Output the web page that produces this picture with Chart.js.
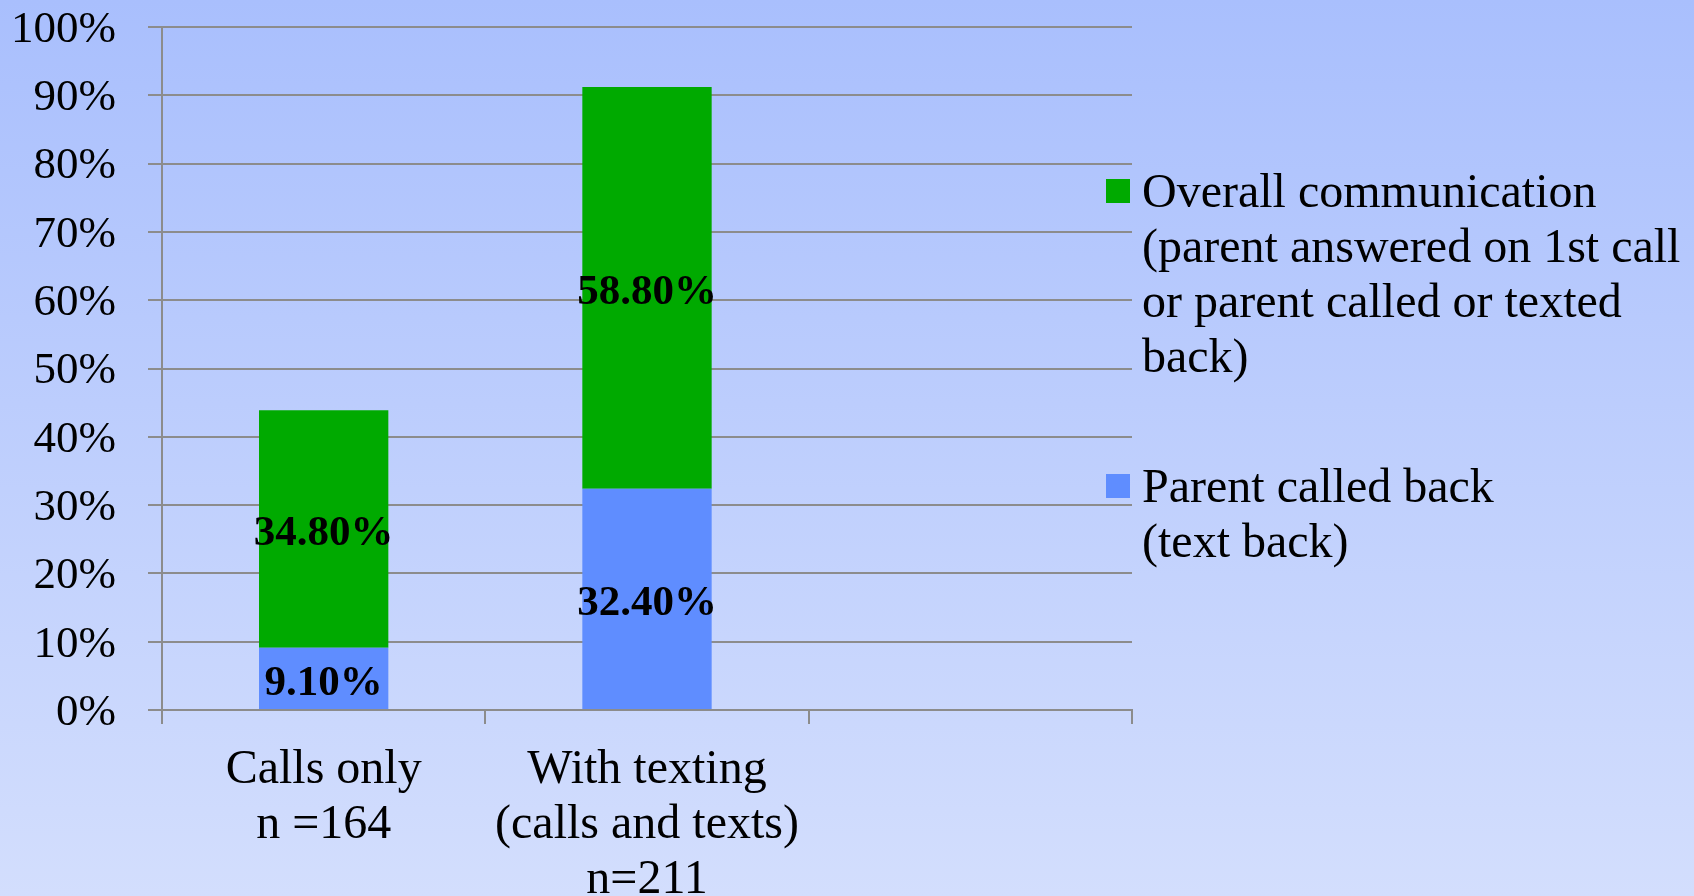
<!DOCTYPE html>
<html>
<head>
<meta charset="utf-8">
<script src="https://cdn.jsdelivr.net/npm/chart.js@4/dist/chart.umd.min.js"></script>
<style>
  html, body { margin: 0; padding: 0; }
  body {
    width: 1694px; height: 896px; overflow: hidden; position: relative;
    background: linear-gradient(180deg, #a9bffd 0%, #bccdfd 45%, #d3defd 100%);
    font-family: "Liberation Serif", "Times New Roman", serif;
  }
  #wrap { position: absolute; left: 0; top: 0; width: 1694px; height: 896px; }
  #legend { position: absolute; left: 1106px; top: 0; font-size: 48px; line-height: 55px; color: #000; }
  .item { position: absolute; left: 0; white-space: nowrap; }
  .sw { position: absolute; left: 0; top: 16px; width: 24px; height: 24px; }
  .txt { position: absolute; left: 36px; top: 0; }
</style>
</head>
<body>
<div id="wrap"><canvas id="c" width="1694" height="896"></canvas></div>
<div id="legend"></div>
<script>
const categories = [["Calls only", "n =164"], ["With texting", "(calls and texts)", "n=211"], ""];
const calledBack = [9.1, 32.4, null];
const overall = [34.8, 58.8, null];
const seriesNames = ["Parent called back (text back)", "Overall communication (parent answered on 1st call or parent called or texted back)"];
const legendLines = [
  ["Overall communication", "(parent answered on 1st call", "or parent called or texted", "back)"],
  ["Parent called back", "(text back)"]
];
const yTicks = [0, 10, 20, 30, 40, 50, 60, 70, 80, 90, 100];
const colors = ["#5f8dff", "#00aa00"];

const FONT = '"Liberation Serif", "Times New Roman", serif';

const barLabels = {
  id: 'barLabels',
  afterDatasetsDraw(chart) {
    const ctx = chart.ctx;
    ctx.save();
    ctx.font = 'bold 43px ' + FONT;
    ctx.fillStyle = '#000';
    ctx.textAlign = 'center';
    ctx.textBaseline = 'middle';
    chart.data.datasets.forEach((ds, di) => {
      const meta = chart.getDatasetMeta(di);
      meta.data.forEach((bar, i) => {
        const v = ds.data[i];
        if (v == null) return;
        const p = bar.getProps(['x', 'y', 'base'], true);
        ctx.fillText(v.toFixed(2) + '%', p.x, (p.y + p.base) / 2 + 5);
      });
    });
    ctx.restore();
  }
};

new Chart(document.getElementById('c'), {
  type: 'bar',
  data: {
    labels: categories,
    datasets: [
      { label: seriesNames[0], data: calledBack, backgroundColor: colors[0], barPercentage: 0.4, categoryPercentage: 1.0 },
      { label: seriesNames[1], data: overall, backgroundColor: colors[1], barPercentage: 0.4, categoryPercentage: 1.0 }
    ]
  },
  options: {
    responsive: false,
    animation: false,
    layout: { padding: { left: 0, top: 27, right: 562, bottom: 0 } },
    plugins: { legend: { display: false }, tooltip: { enabled: false } },
    scales: {
      x: {
        stacked: true,
        grid: { drawOnChartArea: false, drawTicks: true, tickLength: 14, color: '#8c8c8c', lineWidth: 2, offset: true },
        border: { color: '#8c8c8c', width: 2 },
        ticks: { font: { family: FONT, size: 48, lineHeight: 55 / 48 }, color: '#000', padding: 19, maxRotation: 0, autoSkip: false },
        afterFit(s) { s.height = 186; s.paddingLeft = 0; s.paddingRight = 0; s.paddingTop = 0; s.paddingBottom = 0; }
      },
      y: {
        stacked: true,
        min: 0, max: 100,
        afterBuildTicks(s) { s.ticks = yTicks.map(v => ({ value: v })); },
        grid: { color: '#8c8c8c', lineWidth: 2, tickLength: 14 },
        border: { color: '#8c8c8c', width: 2 },
        ticks: { font: { family: FONT, size: 45 }, color: '#000', padding: 32, labelOffset: 3, callback: v => v + '%' },
        afterFit(s) { s.width = 162; s.paddingTop = 0; s.paddingBottom = 0; s.paddingLeft = 0; s.paddingRight = 0; }
      }
    }
  },
  plugins: [barLabels]
});

// HTML legend built from the series arrays
const legend = document.getElementById('legend');
const tops = [163, 458];
const legendColors = [colors[1], colors[0]];
legendLines.forEach((lines, k) => {
  const item = document.createElement('div');
  item.className = 'item';
  item.style.top = tops[k] + 'px';
  const sw = document.createElement('div');
  sw.className = 'sw';
  sw.style.background = legendColors[k];
  const t = document.createElement('div');
  t.className = 'txt';
  t.innerHTML = lines.join('<br>');
  item.appendChild(sw);
  item.appendChild(t);
  legend.appendChild(item);
});
</script>
</body>
</html>
